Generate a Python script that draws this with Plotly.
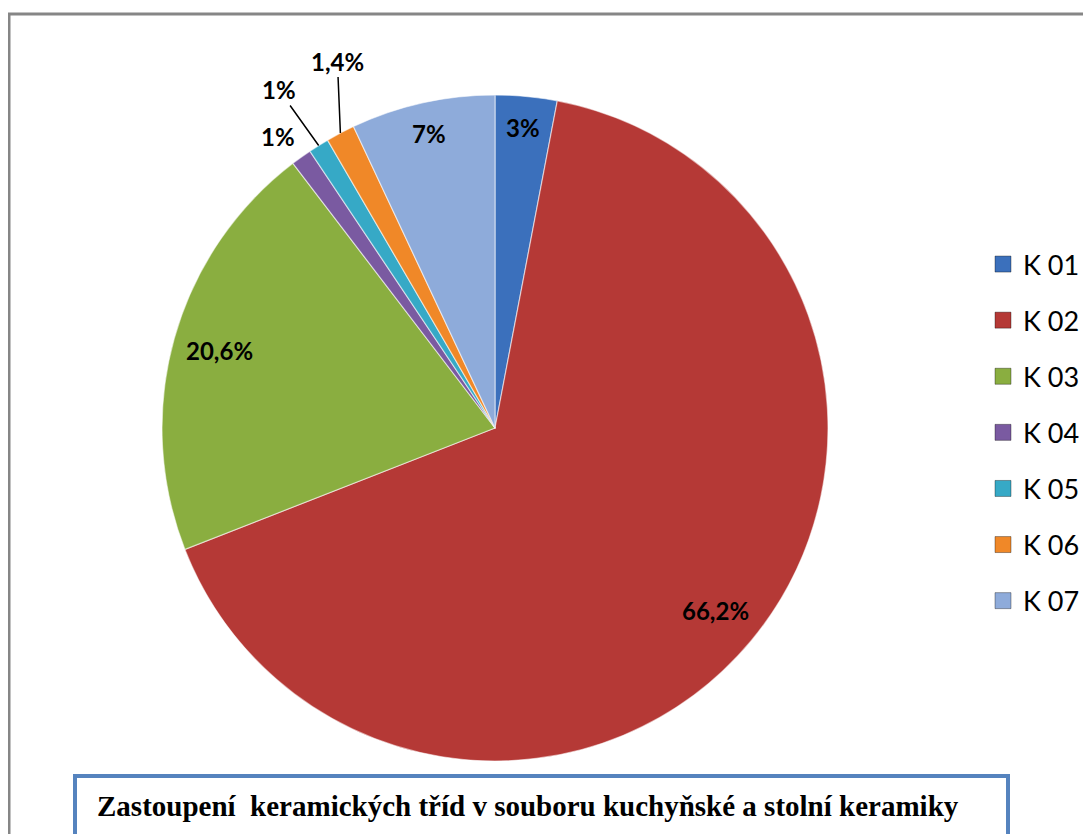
import math
import plotly.graph_objects as go

# ---- data ----
categories = ["K 01", "K 02", "K 03", "K 04", "K 05", "K 06", "K 07"]
values = [3.0, 66.2, 20.6, 1.0, 1.0, 1.4, 7.0]
value_labels = ["3%", "66,2%", "20,6%", "1%", "1%", "1,4%", "7%"]
colors = ["#3B70BC", "#B53936", "#8AAE40", "#7A5AA1", "#36A9C6", "#F08828", "#8EABDA"]
title_text = "Zastoupení  keramických tříd v souboru kuchyňské a stolní keramiky"

# ---- layout / style (pixels in the browser window) ----
OFF = 8                     # default page body margin
WIN_W, WIN_H = 1091, 834
W, H = WIN_W - OFF, WIN_H - OFF
cx, cy, R = 495 - OFF, 428 - OFF, 333

def px_x(p):
    return p / W

def px_y(p):
    return 1 - p / H

dom_x = [px_x(cx - R), px_x(cx + R)]
dom_y = [px_y(cy + R), px_y(cy - R)]

# label placement style: (kind, parameter)
#  inside -> radius fraction; outside -> (ax, ay, draw leader line)
label_style = {
    0: ("in", 0.905), 1: ("in", 0.86), 2: ("in", 0.86),
    3: ("out", (-23, -21, False)), 4: ("out", (-40, -56, True)),
    5: ("out", (-3, -72, True)), 6: ("in", 0.905),
}
label_font = dict(family="Lato", size=24, color="black", weight="bold")

fig = go.Figure()
fig.add_trace(go.Pie(
    labels=categories,
    values=values,
    textinfo="none",
    sort=False,
    direction="clockwise",
    rotation=0,
    marker=dict(colors=colors, line=dict(color="rgba(255,255,255,0.55)", width=1.2)),
    domain=dict(x=dom_x, y=dom_y),
    showlegend=False,
    hoverinfo="label+percent",
))

# legend via dummy traces
for c, col in zip(categories, colors):
    fig.add_trace(go.Scatter(
        x=[None], y=[None], mode="markers", name=c, legendgroup=c,
        marker=dict(symbol="square", size=18, color=col,
                    line=dict(color="rgba(0,0,0,0.35)", width=1)),
        showlegend=True,
    ))

# data labels, positioned from the data's slice angles
total = sum(values)
cum = 0.0
for i, v in enumerate(values):
    mid = (cum + v / 2) / total * 2 * math.pi
    cum += v
    kind, par = label_style[i]
    if kind == "in":
        px = cx + par * R * math.sin(mid)
        py = cy - par * R * math.cos(mid)
        fig.add_annotation(x=px_x(px), y=px_y(py), xref="paper", yref="paper",
                           xanchor="center", yanchor="middle",
                           text=value_labels[i], showarrow=False, font=label_font)
    else:
        px = cx + R * math.sin(mid)
        py = cy - R * math.cos(mid)
        ax, ay, line = par
        fig.add_annotation(
            x=px_x(px), y=px_y(py), xref="paper", yref="paper",
            text=value_labels[i], showarrow=True, ax=ax, ay=ay,
            arrowhead=0, arrowwidth=1.5,
            arrowcolor="black" if line else "rgba(0,0,0,0)",
            font=label_font, standoff=0,
        )

# outer chart border (gray)
fig.add_shape(type="rect", xref="paper", yref="paper",
              x0=px_x(9 - OFF), x1=1.05, y0=-0.05, y1=px_y(14 - OFF),
              line=dict(color="#868686", width=3), fillcolor="rgba(0,0,0,0)", layer="below")

# title box
fig.add_shape(type="rect", xref="paper", yref="paper",
              x0=px_x(75 - OFF), x1=px_x(1008 - OFF), y0=-0.1, y1=px_y(776 - OFF),
              line=dict(color="#5583BE", width=4), fillcolor="white")
fig.add_annotation(
    x=px_x(95 - OFF), y=px_y(806 - OFF), xref="paper", yref="paper",
    xanchor="left", yanchor="middle", showarrow=False,
    text=title_text,
    font=dict(family="Liberation Serif", size=29, color="black", weight="bold"),
)

fig.update_layout(
    width=W, height=H,
    margin=dict(l=0, r=0, t=0, b=0),
    paper_bgcolor="white", plot_bgcolor="white",
    xaxis=dict(visible=False), yaxis=dict(visible=False),
    legend=dict(x=px_x(983 - OFF), y=px_y(240 - OFF), xanchor="left", yanchor="top",
                font=dict(family="Lato", size=27, color="black"),
                tracegroupgap=18, bgcolor="rgba(0,0,0,0)"),
)

fig.write_html("out.html")
